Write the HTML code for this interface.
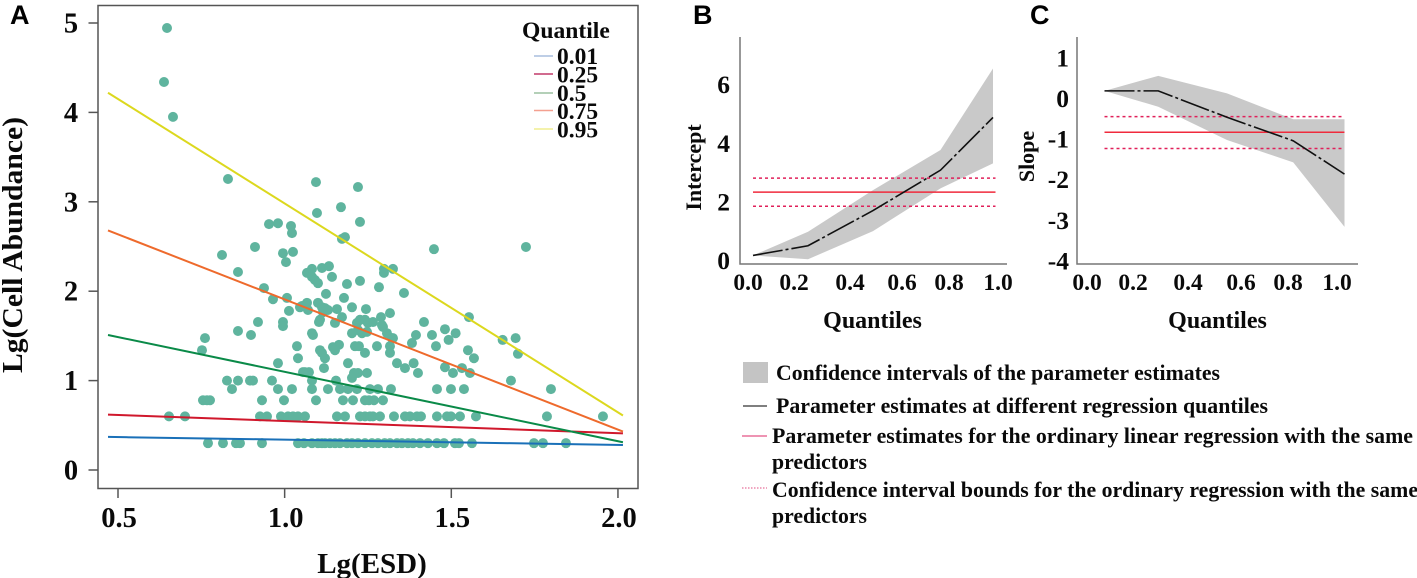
<!DOCTYPE html>
<html lang="en">
<head>
<meta charset="utf-8">
<title>Quantile regression of cell abundance on ESD</title>
<style>
  html, body { margin: 0; padding: 0; background: #fff; width: 1417px; height: 578px; overflow: hidden; }
  svg { display: block; filter: blur(0.35px); }
  text { font-family: "Liberation Serif", serif; font-weight: bold; fill: #0a0a0a; }
  .panel-letter { font-family: "Liberation Sans", sans-serif; font-size: 27px; fill: #000; }
</style>
</head>
<body>
<svg id="figure" xmlns="http://www.w3.org/2000/svg" width="1417" height="578" viewBox="0 0 1417 578">
  <text class="panel-letter" x="10" y="24">A</text>
  <text class="panel-letter" x="693" y="24">B</text>
  <text class="panel-letter" x="1030" y="24">C</text>

  <g id="panel-a">
    <rect x="98" y="5.5" width="540" height="483" fill="none" stroke="#555" stroke-width="1.5"/>
    <text transform="translate(22 245) rotate(-90)" text-anchor="middle" font-size="29" textLength="256" lengthAdjust="spacingAndGlyphs">Lg(Cell Abundance)</text>
    <text x="372" y="573" text-anchor="middle" font-size="29">Lg(ESD)</text>
  </g>

  <g id="legend-a">
    <text x="522" y="38" font-size="23.6">Quantile</text>
    <line x1="534" x2="553" y1="56" y2="56" stroke="#a9bede" stroke-width="1.5"/>
    <text x="557" y="64" font-size="23.5">0.01</text>
    <line x1="534" x2="553" y1="74" y2="74" stroke="#c23a6a" stroke-width="1.5"/>
    <text x="557" y="82.5" font-size="23.5">0.25</text>
    <line x1="534" x2="553" y1="93" y2="93" stroke="#9cc0a0" stroke-width="1.5"/>
    <text x="557" y="101" font-size="23.5">0.5</text>
    <line x1="534" x2="553" y1="110.5" y2="110.5" stroke="#f4a090" stroke-width="1.5"/>
    <text x="557" y="119" font-size="23.5">0.75</text>
    <line x1="534" x2="553" y1="129" y2="129" stroke="#f0ee90" stroke-width="1.5"/>
    <text x="557" y="137.5" font-size="23.5">0.95</text>
  </g>

  <g id="panel-b">
    <text transform="translate(701 167.5) rotate(-90)" text-anchor="middle" font-size="22">Intercept</text>
    <text x="872.5" y="328" text-anchor="middle" font-size="24">Quantiles</text>
  </g>
  <g id="panel-c">
    <text transform="translate(1034 156.5) rotate(-90)" text-anchor="middle" font-size="22">Slope</text>
    <text x="1217.5" y="328" text-anchor="middle" font-size="24">Quantiles</text>
  </g>

  <g id="key">
    <rect x="743" y="362" width="25" height="21" fill="#c4c4c4"/>
    <text x="776" y="380" font-size="22.5" textLength="444" lengthAdjust="spacingAndGlyphs">Confidence intervals of the parameter estimates</text>
    <line x1="743" x2="767" y1="406" y2="406" stroke="#555" stroke-width="1.5"/>
    <text x="776" y="413" font-size="22.5" textLength="492" lengthAdjust="spacingAndGlyphs">Parameter estimates at different regression quantiles</text>
    <line x1="742" x2="767" y1="436" y2="436" stroke="#e8709a" stroke-width="1.5"/>
    <text x="772" y="443" font-size="22.5" textLength="641" lengthAdjust="spacingAndGlyphs">Parameter estimates for the ordinary linear regression with the same</text>
    <text x="772" y="469" font-size="22.5" textLength="95" lengthAdjust="spacingAndGlyphs">predictors</text>
    <line x1="742" x2="767" y1="488" y2="488" stroke="#e8709a" stroke-width="1.2" stroke-dasharray="1.5 1.5"/>
    <text x="772" y="497" font-size="22.5" textLength="646" lengthAdjust="spacingAndGlyphs">Confidence interval bounds for the ordinary regression with the same</text>
    <text x="772" y="523" font-size="22.5" textLength="95" lengthAdjust="spacingAndGlyphs">predictors</text>
  </g>
</svg>
<script>
/* Panel A data */
const scatterXTicks = [0.5, 1.0, 1.5, 2.0];
const scatterXLabels = ["0.5", "1.0", "1.5", "2.0"];
const scatterYTicks = [0, 1, 2, 3, 4, 5];
const scatterPoints = [
  [.647,4.944],[.638,4.34],[.665,3.95],[.83,3.255],[1.094,3.22],[1.22,3.165],[1.169,2.94],[1.097,2.875],[1.226,2.775],
  [.953,2.75],[.98,2.76],[1.019,2.73],[1.022,2.65],[1.172,2.585],[1.181,2.605],[1.448,2.47],[1.724,2.495],[.911,2.495],
  [.812,2.405],[.995,2.425],[1.025,2.44],[1.004,2.325],[.86,2.215],[1.067,2.205],[1.082,2.25],[1.112,2.26],[1.133,2.28],
  [1.298,2.25],[1.298,2.205],[1.325,2.25],[1.082,2.16],[1.091,2.125],[1.10,2.09],[1.142,2.16],[1.187,2.08],[1.226,2.115],
  [1.283,2.045],[1.358,1.98],[.938,2.035],[1.124,1.97],[1.178,1.925],[.965,1.91],[1.007,1.925],[1.10,1.87],[1.067,1.87],
  [1.052,1.835],[1.046,1.82],[1.07,1.79],[1.112,1.82],[1.121,1.81],[1.202,1.82],[1.244,1.80],[1.157,1.80],[1.013,1.78],
  [1.115,1.765],[1.13,1.79],[1.316,1.755],[1.289,1.71],[1.172,1.71],[1.553,1.71],[1.418,1.655],[.92,1.655],[.995,1.655],
  [.995,1.61],[1.103,1.655],[1.151,1.645],[1.217,1.645],[1.226,1.68],[1.241,1.68],[1.25,1.645],[1.265,1.655],[1.295,1.60],
  [1.292,1.62],[1.106,1.68],[1.22,1.565],[1.232,1.53],[1.247,1.545],[1.202,1.53],[1.307,1.53],[1.322,1.475],[1.481,1.575],
  [.86,1.555],[.899,1.51],[.761,1.475],[.752,1.34],[1.082,1.53],[1.085,1.51],[1.394,1.51],[1.442,1.51],[1.513,1.53],
  [1.492,1.455],[1.654,1.455],[1.693,1.475],[1.70,1.30],[1.55,1.34],[1.568,1.25],[1.037,1.385],[1.145,1.375],[1.163,1.40],
  [1.151,1.34],[1.211,1.385],[1.223,1.385],[1.277,1.385],[1.316,1.385],[1.316,1.31],[1.325,1.475],[1.382,1.42],[1.454,1.385],
  [1.106,1.34],[1.112,1.31],[1.121,1.25],[1.241,1.31],[1.04,1.25],[1.19,1.195],[.98,1.195],[1.337,1.195],[1.387,1.195],
  [1.532,1.14],[1.481,1.15],[1.361,1.14],[1.118,1.14],[1.556,1.085],[1.505,1.085],[1.40,1.085],[1.247,1.085],[1.22,1.085],
  [1.208,1.085],[1.202,1.03],[1.061,1.095],[1.073,1.095],[1.055,1.095]
];
const rowValues = [1.0, 0.905, 0.78, 0.60, 0.30];
const rowXValues = [
  [.827,.86,.896,.905,.962,1.082,1.154,1.679],
  [.842,.98,1.022,1.082,1.13,1.166,1.19,1.217,1.256,1.28,1.319,1.457,1.499,1.538,1.799],
  [.755,.767,.776,.932,.998,1.094,1.175,1.205,1.241,1.253,1.268,1.295],
  [.653,.701,.926,.947,.989,1.01,1.025,1.04,1.061,1.157,1.181,1.226,1.241,1.256,1.265,1.286,1.328,1.361,1.376,1.397,1.409,1.457,1.487,1.499,1.526,1.574,1.787,1.955],
  [.77,.815,.854,.866,.932,1.04,1.058,1.082,1.10,1.112,1.121,1.136,1.151,1.166,1.187,1.202,1.22,1.241,1.262,1.28,1.30,1.316,1.337,1.352,1.37,1.385,1.406,1.43,1.457,1.478,1.511,1.523,1.562,1.748,1.775,1.844]
];
const fitX = [0.47, 2.015];
const fit001 = [0.37, 0.28];
const fit025 = [0.62, 0.41];
const fit050 = [1.51, 0.31];
const fit075 = [2.68, 0.43];
const fit095 = [4.22, 0.61];

/* Panel B data */
const quantileXTicks = [0, 0.2, 0.4, 0.6, 0.8, 1.0];
const quantileXLabels = ["0.0", "0.2", "0.4", "0.6", "0.8", "1.0"];
const interceptYTicks = [0, 2, 4, 6];
const interceptQ = [0.02, 0.24, 0.50, 0.77, 0.98];
const interceptEstimate = [0.19, 0.52, 1.72, 3.10, 4.90];
const interceptUpper = [0.19, 1.00, 2.42, 3.79, 6.57];
const interceptLower = [0.19, 0.06, 1.02, 2.48, 3.33];
const interceptOlsRange = [0.02, 0.99];
const interceptOls = 2.35;
const interceptOlsHigh = 2.83;
const interceptOlsLow = 1.87;

/* Panel C data */
const slopeYTicks = [-4, -3, -2, -1, 0, 1];
const slopeQ = [0.07, 0.285, 0.56, 0.825, 1.03];
const slopeEstimate = [0.20, 0.20, -0.45, -1.03, -1.85];
const slopeUpper = [0.20, 0.57, 0.14, -0.50, -0.50];
const slopeLower = [0.20, -0.19, -1.01, -1.56, -3.15];
const slopeOlsRange = [0.07, 1.03];
const slopeOls = -0.82;
const slopeOlsHigh = -0.435;
const slopeOlsLow = -1.22;

const SVG_NS = "http://www.w3.org/2000/svg";
function make(parent, tag, props, content) {
  const el = document.createElementNS(SVG_NS, tag);
  for (const key in props) el.setAttribute(key, props[key]);
  if (content !== undefined) el.textContent = content;
  parent.appendChild(el);
  return el;
}

/* Panel A */
const aX = v => 118 + (v - 0.5) * 333.3;
const aY = v => 470 - v * 89.4;
const panelA = document.getElementById("panel-a");

scatterXTicks.forEach((t, i) => {
  const tick = make(panelA, "line", { x1: aX(t), x2: aX(t), y1: 488.5, y2: 498, stroke: "#555", "stroke-width": 1.5 });
  
  
  const label = make(panelA, "text", { x: aX(t) + 1, y: 527, "text-anchor": "middle", "font-size": 28.5 }, scatterXLabels[i]);
  
  
});
scatterYTicks.forEach(t => {
  const tick = make(panelA, "line", { x1: 88.5, x2: 98, y1: aY(t), y2: aY(t), stroke: "#555", "stroke-width": 1.5 });
  
  
  const label = make(panelA, "text", { x: 71, y: aY(t) + 9.5, "text-anchor": "middle", "font-size": 28.5 }, String(t));
  
  
});

function drawPoint(x, y) {
  const point = make(panelA, "circle", { cx: aX(x), cy: aY(y), r: 5, fill: "#5fb49e" });
  
  
}
scatterPoints.forEach(p => drawPoint(p[0], p[1]));
rowValues.forEach((y, r) => rowXValues[r].forEach(x => drawPoint(x, y)));

function drawFit(values, color, name) {
  const fit = make(panelA, "line", { x1: aX(fitX[0]), x2: aX(fitX[1]), y1: aY(values[0]), y2: aY(values[1]), stroke: color, "stroke-width": 2 });
  
  
}
drawFit(fit001, "#1a70b8", "fit-line-0.01");
drawFit(fit025, "#d0182c", "fit-line-0.25");
drawFit(fit050, "#0a8a48", "fit-line-0.5");
drawFit(fit075, "#ee6a2c", "fit-line-0.75");
drawFit(fit095, "#dcd81e", "fit-line-0.95");

/* Panels B and C */
function drawParameterPanel(cfg) {
  const g = document.getElementById(cfg.id);
  const sx = v => cfg.x0 + v * 250;
  const sy = v => cfg.y0 - v * cfg.yScale;
  const upperPath = cfg.q.map((q, i) => sx(q) + "," + sy(cfg.upper[i]));
  const lowerPath = cfg.q.map((q, i) => sx(q) + "," + sy(cfg.lower[i])).reverse();

  const band = make(g, "polygon", { points: upperPath.concat(lowerPath).join(" "), fill: "#c9c9c9" });
  
  

  const axes = make(g, "polyline", { points: cfg.axisLeft + ",37 " + cfg.axisLeft + ",264 " + cfg.axisRight + ",264", fill: "none", stroke: "#777", "stroke-width": 1.5 });
  
  

  const olsLine = make(g, "line", { x1: sx(cfg.olsRange[0]), x2: sx(cfg.olsRange[1]), y1: sy(cfg.ols), y2: sy(cfg.ols), stroke: "#f02a3c", "stroke-width": 1.5 });
  
  

  const olsHigh = make(g, "line", { x1: sx(cfg.olsRange[0]), x2: sx(cfg.olsRange[1]), y1: sy(cfg.olsHigh), y2: sy(cfg.olsHigh), stroke: "#e0205a", "stroke-width": 1.5, "stroke-dasharray": "3 3" });
  
  

  const olsLow = make(g, "line", { x1: sx(cfg.olsRange[0]), x2: sx(cfg.olsRange[1]), y1: sy(cfg.olsLow), y2: sy(cfg.olsLow), stroke: "#e0205a", "stroke-width": 1.5, "stroke-dasharray": "3 3" });
  
  

  const estimate = make(g, "polyline", { points: cfg.q.map((q, i) => sx(q) + "," + sy(cfg.estimate[i])).join(" "), fill: "none", stroke: "#111", "stroke-width": 1.6, "stroke-dasharray": "30 3 3 3" });
  
  

  quantileXTicks.forEach((t, i) => {
    const label = make(g, "text", { x: sx(t) + cfg.labelNudge[i], y: 290, "text-anchor": "middle", "font-size": 23.5 }, quantileXLabels[i]);
    
    
  });
  cfg.yTicks.forEach(t => {
    const label = make(g, "text", { x: cfg.labelRight, y: sy(t) + 8, "text-anchor": "end", "font-size": 25.5 }, String(t));
    
    
  });
}

drawParameterPanel({
  id: "panel-b", x0: 748, y0: 261, yScale: 29.3, axisLeft: 740, axisRight: 1007, labelRight: 730,
  labelNudge: [0, -4, 2, 4, 1, 0],
  q: interceptQ, estimate: interceptEstimate, upper: interceptUpper, lower: interceptLower,
  olsRange: interceptOlsRange, ols: interceptOls, olsHigh: interceptOlsHigh, olsLow: interceptOlsLow,
  yTicks: interceptYTicks
});
drawParameterPanel({
  id: "panel-c", x0: 1087, y0: 99, yScale: 40.6, axisLeft: 1077, axisRight: 1358, labelRight: 1069,
  labelNudge: [0, -4, 1, 4, 1, 0],
  q: slopeQ, estimate: slopeEstimate, upper: slopeUpper, lower: slopeLower,
  olsRange: slopeOlsRange, ols: slopeOls, olsHigh: slopeOlsHigh, olsLow: slopeOlsLow,
  yTicks: slopeYTicks
});
</script>
</body>
</html>
